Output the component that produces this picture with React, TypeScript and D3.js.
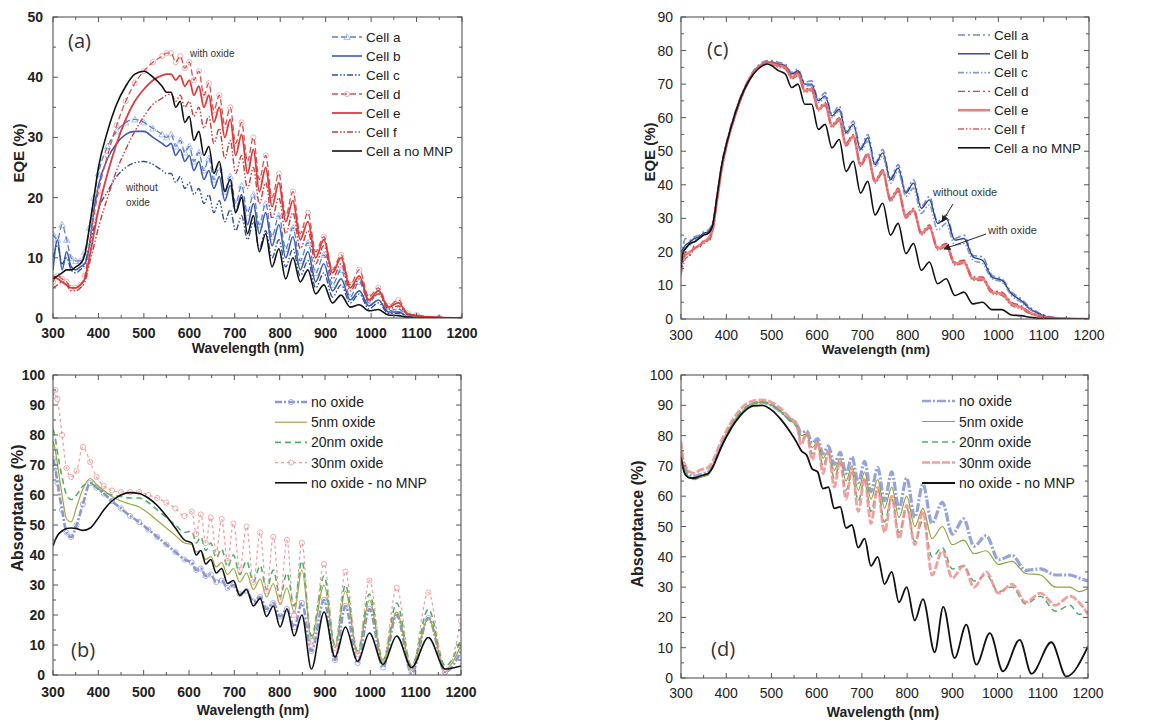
import React from 'react';
import * as d3 from 'd3';

// ================= DATA =================
const xTicks = [300, 400, 500, 600, 700, 800, 900, 1000, 1100, 1200];
const yTicksA = [0, 10, 20, 30, 40, 50];
const yTicksC = [0, 10, 20, 30, 40, 50, 60, 70, 80, 90];
const yTicksB = [0, 10, 20, 30, 40, 50, 60, 70, 80, 90, 100];

// ---- panel (a): EQE ----
const lamA = [300,310,320,330,340,350,360,370,380,390,400,420,440,460,480,500,520,540,550,
  560,570,580,590,600,610,621,632,643,654,666,678,690,702,715,728,741,754,768,782,797,812,828,844,861,878,896,915,934,954,974,995,1016,1038,1060,1080,
  1100,1150,1200];
const aCellA = [14,13,15.5,13,10,9.5,9.5,11,15,20,24,28.5,31,32.5,33,32.5,31.5,30.5,30,
  30.5,28.5,29.5,27.5,28.5,26,27.5,24.5,26.5,23,25,21,23.5,19,22,17.5,20.5,15.5,19,13.5,17,11.5,15,9.5,12.5,7.5,10.5,5.5,8,3.5,6,2.5,4.5,1.2,1.5,0.5,
  0.2,0,0];
const aCellB = [8,13,8,11,8.5,8,8.5,9,12,18,22,26.5,29,30.5,31,31,30,29,28.5,
  29,27,28,26,27,24.5,26,23,24.5,21.5,23.5,19.5,22,17.5,20.5,15.5,19,14,17.5,12,15.5,10,13.5,8,11,6,9,4.5,6.5,3,4.5,2,3,1,1,0.3,
  0.1,0,0];
const aCellC = [10,12,9,10,8,7.5,8,9,12,15,18,21,23.5,25,25.8,26,25.5,24.5,24,
  24,22.5,23.5,21.5,22.5,20.5,21.5,19,20.5,17.5,19.5,16,18,14.5,17,13,16,11.5,14.5,10,13,8.5,11.5,7,9.5,5,7.5,3.5,5.5,2.5,4,1.5,2.5,0.8,0.8,0.3,
  0.1,0,0];
const aCellD = [6,7,6.5,6,5,5,5.5,7,12,17,21,27,32,36,39,41,42.5,43.5,44,
  44,42.5,43.5,41.5,42.5,39.5,41,37,39,34.5,37,32,35,29,32.5,26,30,23,27,20,24,17,21,14,17.5,11,13.5,8,10.5,5.5,8,3.5,5,2,3,0.8,
  0.5,0.1,0];
const aCellE = [7,6.5,6,5.5,5,5,5.5,6.5,10,14,18,24,29,33,36,38,39.5,40.3,40.5,
  40.5,39.5,40.3,38.5,39.5,37,38.5,35,37,32.5,35,30,33,27,30.5,24,28,21,25,18.5,22.5,16,19.5,13,16,10,13,7.5,10,5,7,3,4.5,1.8,2.5,0.7,
  0.4,0.1,0];
const aCellF = [5,5.5,6,5.5,4.5,4.5,5,6,9,12,15,20,24.5,28,31,33.5,35.5,36.5,37,
  37.2,36,37,35,36,33.5,35,31.5,33.5,29,31.5,26.5,29.5,24,27,21.5,25,19,22.5,16.5,20,14,17.5,11.5,14.5,9,12,6.5,9,4.5,6.5,2.8,4,1.5,2,0.6,
  0.3,0.1,0];
const aNoMNP = [6.5,7,7.5,8,8,8.5,9,10.5,15,20,25,31,35.5,38.5,40.5,41,40,38.5,37.5,
  37.5,35,36,32.5,33.5,29.5,31,27,28.5,24,26,21,23,17.5,20,14,17,11,14,8.5,11.5,6.5,10,6,8,4,5.5,2.5,3.8,1.8,2.2,1.2,1.4,0.5,0.4,0.1,
  0,0,0];

// ---- panel (b): absorptance ----
const lamB = [300,305,310,320,330,340,352,366,382,396,412,430,450,470,490,510,530,550,570,590,
  606,616,626,637,648,660,672,685,698,712,727,742,757,771,786,801,816,832,
  849,870,898,922,945,972,998,1028,1058,1091,1128,1165,1200];
const bNoOxide = [72,69,64,55,47.5,46,50,57,64,62.5,60.5,58,55.5,53,51,48.5,46,43.5,41,38.5,
  37.5,35,35.5,33,33.5,31,31.5,29,30,27,28,24.5,26,22,24,19.5,22,16,
  24,8,25,5,23,4,22,2.5,20,0.5,19,1,8];
const b5nm = [78,75,70,60,52,51,56,62,65.5,63.5,61.5,59.5,58,57,56,54,51.5,49,46.5,44,
  43.5,41,41.5,38.5,39.5,36,37.5,33.5,35.5,31,34,28.5,32,26,30.5,23.5,29,21,
  35,12,30,9,28,7,25,4,21,2,19,2,10];
const b20nm = [82,79,74,66,60,58.5,60,63,64,62.5,61,60,59.5,59,59,57.5,55,52.5,50,47.5,
  48,44,46,41.5,44,39,42,36,40,33.5,38,31,36.5,28.5,35,26,34,23,
  38,13,33,10,30,8,27,5,24,3,22,3,12];
const b30nm = [93,95,92,80,69,66,68,76,71,66,63,61.5,61,61,61,60,59,57.5,55.5,53,
  54.5,47,53.5,44,52.5,41,52,38,50.5,35,49.5,31,47.5,28,46,25,45,20,
  44,10,37,9,34.5,7,31.5,4.5,29,2.5,27.5,1,18];
const bNoMNP = [43,45,46.5,48,48.8,49,48.8,48.2,49,51.5,55,58,60,60.8,60.5,59,56.5,53,49,45,
  44,40,41.5,37,38.5,34,35.5,30.5,31.5,26.5,28.5,23,25.5,19.5,23,16,22,13,
  20,2,21,6,16,4.5,14,3.5,13,2.5,12.5,2,3];

// ---- panel (c): EQE ----
const lamC = [300,305,310,320,330,340,350,360,370,380,390,400,420,440,460,480,490,500,515,
  530,544,558,573,588,603,618,633,649,664,680,696,712,728,745,762,779,796,813,830,848,866,885,904,924,944,965,986,1008,1029,1050,
  1070,1090,1110,1150,1200];
const cCellA = [18,22,24,23.5,24.5,25,26,26.5,29,37.5,46.5,52.5,62,69,74,76.5,77,77,76.5,
  76,73.5,74.5,70.5,71,65.5,67.5,61,63.5,56,59,51,55,46.5,50.5,42,46,38,41.5,33.5,36.5,29,31,24,25,19,18.5,13,12,8,6,
  3.5,1.8,0.8,0.2,0];
const cCellB = [20,21,22,23,24,24.5,25.5,26,28.5,37,46,52,61.5,68.5,73.5,76,76.5,76.5,76,
  75.5,73,74,70,70,65,66.5,60.5,62.5,55.5,58,50.5,54,46,49.5,41.5,45,37.5,40.5,33,35.5,28.5,30,23.5,24,18.5,17.5,12.5,11.5,7.5,5.5,
  3,1.5,0.6,0.1,0];
const cCellC = [16,19,21,22,23.5,24,25,25.5,28,36.5,45.5,51.5,61,68,73.5,76,76.5,76,75.5,
  75,72.5,73.5,69.5,69.5,64.5,66,60,62,55,57.5,50,53,45.5,48.5,40.5,44,36.5,39,31.5,34,26.5,28.5,22,22.5,17.5,16.5,12,11,7,5,
  2.8,1.3,0.5,0.1,0];
const cCellD = [14,17,20,19,22,21,23.5,23,26.5,35.5,45,51.5,61,68.5,73.5,76,76.5,76.5,76,
  75.5,72.5,73.5,68.5,69,63,64.5,58,60,52.5,55,46.5,49.5,41.5,44.5,36,39,31,33,26,28,21.5,22.5,17,17.5,12.5,12.5,8.5,8,5,4,
  2,1,0.5,0.1,0];
const cCellE = [17,18,19,20,21,22,23,24,27,36,45,51.5,61,68.5,73.5,76,76.5,76,75.5,
  75,72,73,68,68.5,62.5,64,57.5,59.5,52,54.5,46,49,41,44,35.5,38.5,30.5,32.5,25.5,27.5,21,22,16.5,17,12,12,8,7.5,4.5,3.5,
  1.8,0.9,0.4,0.1,0];
const cCellF = [13,16,18,19,21,22,22.5,23.5,26,35.5,44.5,51,60.5,68,73,75.5,76,75.5,75,
  74.5,71.5,72.5,67.5,68,62,63.5,57,59,51.5,54,45.5,48.5,40.5,43.5,35,38,30,32,25,27,20.5,21.5,16,16.5,11.5,11.5,7.5,7,4,3,
  1.5,0.8,0.3,0.1,0];
const cNoMNP = [15,20,21,22.5,23,24,25,25.5,28,37,46,52,61.5,68.5,73,75.5,76,75.5,74,
  73,69,70,64,64,56.5,58,51,53.5,44,47,37.5,41,31,34.5,25,28.5,19.5,22.5,14.5,17,10.5,12,7,8,4.5,5,2.8,2.8,1.2,1,
  0.5,0.2,0.1,0,0];

// ---- panel (d): absorptance ----
const lamD = [300,305,310,320,330,340,350,360,370,380,390,400,420,440,460,480,500,520,540,
  555,566,578,590,602,614,626,639,652,665,678,692,706,720,735,750,766,782,799,817,835,855,878,900,925,948,975,1002,1032,1062,1095,1128,1160,1180,
  1200];
const dNoOxide = [75,71,69,67,66.5,67,67.5,68,70,73.5,77,80,85,88.5,90.5,91,90,88,85.5,
  84,81,81.5,77.5,79,74,76.5,70.5,74.5,67.5,73,64.5,71.5,61.5,69.5,58.5,68,56,66,53,64,51,58,47.5,52.5,43.5,47,39,40.5,35.5,36,34,34,33,
  32];
const d5nm = [74,70,68,66,65.5,66,66.5,67,69.5,73,76.5,80,85,88.5,90.3,91,90,88,85,
  83.5,80,80.5,76,78,72.5,75,68.5,72.5,65,70,62,68,59,65.5,56,63,53,60,50,56,46,50,44,45.5,41,42,37.5,38.5,34.5,34,30,30,28.5,
  29.5];
const d20nm = [74,70,68,66,66,66.5,67,67.5,70,73.5,77,80.5,85.5,89,90.8,91.2,90.3,88,85,
  83,78.5,80,74,77,70,74,66,71,62,68,58.5,65.5,55,62.5,51.5,59.5,48,56,45,52,40,43,36,37,32,34,28.5,30,24.5,27,22,24,21,
  22];
const d30nm = [78,72,70,68,67.5,68.5,69,69.5,71.5,75,78.5,81.5,86.5,90,91.5,91.8,91,89,86,
  84,77,81,72,78,67.5,75,63,72,59,69,55,66,51,63,48,60,46,57,44,55,34,42,33,37,30,35,28,31,25,28,24,27,25,
  21];
const lamDk = [300,305,310,320,330,340,350,360,370,380,390,400,420,440,460,480,500,520,540,
  555,566,578,590,602,614,626,639,652,665,678,692,706,720,735,750,766,782,799,817,835,
  861,880,905,931,953,983,1012,1049,1075,1119,1152,1200];
const dNoMNP = [73,69,67,66,66,66.5,67,67.5,69.5,73,76.5,79.5,84.5,88,89.8,90,88.5,85.5,81.5,
  78,75,73.5,69,68,62.5,63,56,56.5,49.5,50.5,43,46,37,40,31,35,25,30,19,26,
  8.5,23.5,6.6,17.6,4.4,14.8,2.2,12.6,1.4,11.8,0.5,10.4];

const legendA = ['Cell a', 'Cell b', 'Cell c', 'Cell d', 'Cell e', 'Cell f', 'Cell a no MNP'];
const legendB = ['no oxide', '5nm oxide', '20nm oxide', '30nm oxide', 'no oxide - no MNP'];

// ================= STYLE / LAYOUT =================
const FONT = '"Liberation Sans", Arial, Helvetica, sans-serif';

type Style = { color: string; width: number; dash?: string; marker?: 'tri' | 'circle'; mcolor?: string; opacity?: number };
type Ser = { x: number[]; y: number[]; st: Style };

const stA: Style[] = [
  { color: '#5a7fd0', width: 1.3, dash: '6,3', marker: 'tri', mcolor: '#9fb4e6' },
  { color: '#3d5cae', width: 1.6 },
  { color: '#2f4f9c', width: 1.4, dash: '6,2,1.5,2,1.5,2' },
  { color: '#d85050', width: 1.3, dash: '6,3', marker: 'circle', mcolor: '#f0a8a8' },
  { color: '#e23a3a', width: 1.8 },
  { color: '#c83c3c', width: 1.4, dash: '6,2,1.5,2,1.5,2' },
  { color: '#111111', width: 1.6 },
];
const stC: Style[] = [
  { color: '#6080c8', width: 1.6, dash: '7,3,2,3', opacity: 0.9 },
  { color: '#2c3f8f', width: 1.4 },
  { color: '#7090cc', width: 1.6, dash: '6,2,1.5,2,1.5,2', opacity: 0.9 },
  { color: '#c84848', width: 1.4, dash: '7,3,2,3' },
  { color: '#ec6868', width: 2.6, opacity: 0.85 },
  { color: '#d86060', width: 1.3, dash: '6,2,1.5,2,1.5,2' },
  { color: '#111111', width: 1.6 },
];
const stB: Style[] = [
  { color: '#8c96d2', width: 2.6, dash: '7,2,2,2', marker: 'circle', mcolor: '#a4acdc' },
  { color: '#a3a43c', width: 1.2 },
  { color: '#4fae6a', width: 1.6, dash: '6,4' },
  { color: '#ef9a9a', width: 1.2, dash: '3,3', marker: 'circle', mcolor: '#f2a3a3' },
  { color: '#111111', width: 1.6 },
];
const stD: Style[] = [
  { color: '#8a9ad6', width: 3.2, dash: '9,2,2,2', opacity: 0.9 },
  { color: '#8ea33e', width: 1.2 },
  { color: '#4fae6a', width: 1.5, dash: '6,4' },
  { color: '#ef8e8e', width: 2.8, dash: '8,2', opacity: 0.85 },
  { color: '#111111', width: 1.8 },
];

type Note = { text: string; x: number; y: number; size: number; anchor?: string; family?: string };
type Arrow = { x1: number; y1: number; x2: number; y2: number };

type PanelCfg = {
  id: string; left: number; right: number; top: number; bottom: number;
  yMax: number; yTicks: number[]; yMinorStep: number;
  series: Ser[]; legend: string[]; legendStyles: Style[];
  legX: number; legY: number; legDy: number; legLen: number; legFont: number;
  tickFont: number; tickBold: boolean; tickBase: number; yLabRight: number;
  yTitle: string; yTitleX: number; yTitleY: number; yTitleSize: number;
  xTitleX: number; xTitleY: number; xTitleSize: number;
  notes: Note[]; arrows: Arrow[];
};

const panels: PanelCfg[] = [
  {
    id: 'a', left: 53, right: 462, top: 17, bottom: 318, yMax: 50, yTicks: yTicksA, yMinorStep: 5,
    series: [aCellA, aCellB, aCellC, aCellD, aCellE, aCellF, aNoMNP].map((y, i) => ({ x: lamA, y, st: stA[i] })),
    legend: legendA, legendStyles: stA, legX: 332, legY: 37, legDy: 19, legLen: 30, legFont: 13.5,
    tickFont: 14, tickBold: true, tickBase: 338, yLabRight: 43,
    yTitle: 'EQE (%)', yTitleX: 19, yTitleY: 153, yTitleSize: 15,
    xTitleX: 248, xTitleY: 353, xTitleSize: 14,
    notes: [
      { text: '(a)', x: 68, y: 48, size: 20, family: '"Open Sans", sans-serif' },
      { text: 'with oxide', x: 190, y: 57, size: 10 },
      { text: 'without', x: 126, y: 191, size: 10 },
      { text: 'oxide', x: 126, y: 206, size: 10 },
    ],
    arrows: [],
  },
  {
    id: 'c', left: 681, right: 1089, top: 17, bottom: 319, yMax: 90, yTicks: yTicksC, yMinorStep: 5,
    series: [cCellA, cCellB, cCellC, cCellD, cCellE, cCellF, cNoMNP].map((y, i) => ({ x: lamC, y, st: stC[i] })),
    legend: legendA, legendStyles: stC, legX: 958, legY: 35, legDy: 18.8, legLen: 32, legFont: 13.5,
    tickFont: 14, tickBold: false, tickBase: 340, yLabRight: 673,
    yTitle: 'EQE (%)', yTitleX: 650, yTitleY: 152, yTitleSize: 15,
    xTitleX: 876, xTitleY: 354, xTitleSize: 13.5,
    notes: [
      { text: '(c)', x: 707, y: 56, size: 20, family: '"Open Sans", sans-serif' },
      { text: 'without oxide', x: 933, y: 196, size: 11 },
      { text: 'with oxide', x: 988, y: 234, size: 11 },
    ],
    arrows: [
      { x1: 953, y1: 204, x2: 942, y2: 222 },
      { x1: 986, y1: 234, x2: 944, y2: 249 },
    ],
  },
  {
    id: 'b', left: 53, right: 461, top: 375, bottom: 675, yMax: 100, yTicks: yTicksB, yMinorStep: 5,
    series: [bNoOxide, b5nm, b20nm, b30nm, bNoMNP].map((y, i) => ({ x: lamB, y, st: stB[i] })),
    legend: legendB, legendStyles: stB, legX: 275, legY: 402, legDy: 20.2, legLen: 32, legFont: 14,
    tickFont: 14, tickBold: true, tickBase: 697, yLabRight: 45,
    yTitle: 'Absorptance (%)', yTitleX: 17, yTitleY: 508, yTitleSize: 16,
    xTitleX: 253, xTitleY: 715, xTitleSize: 14,
    notes: [{ text: '(b)', x: 71, y: 657, size: 20, family: '"Open Sans", sans-serif' }],
    arrows: [],
  },
  {
    id: 'd', left: 681, right: 1088, top: 375, bottom: 678, yMax: 100, yTicks: yTicksB, yMinorStep: 5,
    series: [
      { x: lamD, y: dNoOxide, st: stD[0] },
      { x: lamD, y: d5nm, st: stD[1] },
      { x: lamD, y: d20nm, st: stD[2] },
      { x: lamD, y: d30nm, st: stD[3] },
      { x: lamDk, y: dNoMNP, st: stD[4] },
    ],
    legend: legendB, legendStyles: stD, legX: 922, legY: 401, legDy: 20.5, legLen: 33, legFont: 14,
    tickFont: 14, tickBold: false, tickBase: 698, yLabRight: 673,
    yTitle: 'Absorptance (%)', yTitleX: 637, yTitleY: 524, yTitleSize: 16,
    xTitleX: 883, xTitleY: 717, xTitleSize: 14,
    notes: [{ text: '(d)', x: 711, y: 656, size: 20, family: '"Open Sans", sans-serif' }],
    arrows: [],
  },
];

// ================= RENDER =================
function Marker({ kind, x, y, color }: { kind: 'tri' | 'circle'; x: number; y: number; color: string }) {
  if (kind === 'tri') {
    const s = 3.2;
    return <path d={`M${x},${y - s}L${x + s},${y + s * 0.8}L${x - s},${y + s * 0.8}Z`} fill="none" stroke={color} strokeWidth={0.9} />;
  }
  return <circle cx={x} cy={y} r={2.6} fill="none" stroke={color} strokeWidth={0.9} />;
}

function Panel({ p }: { p: PanelCfg }) {
  const x = d3.scaleLinear().domain([300, 1200]).range([p.left, p.right]);
  const y = d3.scaleLinear().domain([0, p.yMax]).range([p.bottom, p.top]);
  const line = d3.line<[number, number]>().x(d => x(d[0])).y(d => y(d[1])).curve(d3.curveMonotoneX);
  const xMinor = d3.range(350, 1200, 100);
  const yMinor = d3.range(p.yMinorStep, p.yMax, p.yMinorStep * 2);
  const tickW = p.tickBold ? 'bold' : 'normal';
  const frame = '#555';
  return (
    <g>
      <defs>
        <clipPath id={`clip-${p.id}`}>
          <rect x={p.left} y={p.top} width={p.right - p.left} height={p.bottom - p.top} />
        </clipPath>
      </defs>
      <g clipPath={`url(#clip-${p.id})`}>
        {p.series.map((s, i) => {
          const pts = s.x.map((xx, j) => [xx, s.y[j]] as [number, number]);
          return (
            <g key={i} opacity={s.st.opacity ?? 1}>
              {s.st.marker && pts.map((d, j) => (
                <Marker key={j} kind={s.st.marker!} x={x(d[0])} y={y(d[1])} color={s.st.mcolor || s.st.color} />
              ))}
              <path d={line(pts) || ''} fill="none" stroke={s.st.color} strokeWidth={s.st.width}
                strokeDasharray={s.st.dash} strokeLinejoin="round" />
            </g>
          );
        })}
      </g>
      <rect x={p.left} y={p.top} width={p.right - p.left} height={p.bottom - p.top} fill="none" stroke={frame} strokeWidth={1.1} />
      {xTicks.map(t => (
        <g key={`xt${t}`}>
          <line x1={x(t)} x2={x(t)} y1={p.bottom} y2={p.bottom - 5} stroke={frame} />
          <line x1={x(t)} x2={x(t)} y1={p.top} y2={p.top + 5} stroke={frame} />
          <text x={x(t)} y={p.tickBase} textAnchor="middle" fontSize={p.tickFont} fontWeight={tickW} fontFamily={FONT} fill="#222">{t}</text>
        </g>
      ))}
      {xMinor.map(t => (
        <g key={`xm${t}`}>
          <line x1={x(t)} x2={x(t)} y1={p.bottom} y2={p.bottom - 3} stroke={frame} />
          <line x1={x(t)} x2={x(t)} y1={p.top} y2={p.top + 3} stroke={frame} />
        </g>
      ))}
      {p.yTicks.map(t => (
        <g key={`yt${t}`}>
          <line x1={p.left} x2={p.left + 5} y1={y(t)} y2={y(t)} stroke={frame} />
          <line x1={p.right} x2={p.right - 5} y1={y(t)} y2={y(t)} stroke={frame} />
          <text x={p.yLabRight} y={y(t)} dy="0.36em" textAnchor="end" fontSize={p.tickFont} fontWeight={tickW} fontFamily={FONT} fill="#222">{t}</text>
        </g>
      ))}
      {yMinor.map(t => (
        <g key={`ym${t}`}>
          <line x1={p.left} x2={p.left + 3} y1={y(t)} y2={y(t)} stroke={frame} />
          <line x1={p.right} x2={p.right - 3} y1={y(t)} y2={y(t)} stroke={frame} />
        </g>
      ))}
      <text x={p.xTitleX} y={p.xTitleY} textAnchor="middle" fontSize={p.xTitleSize} fontWeight="bold" fontFamily={FONT} fill="#222">Wavelength (nm)</text>
      <text transform={`translate(${p.yTitleX},${p.yTitleY}) rotate(-90)`} dy="0.36em" textAnchor="middle" fontSize={p.yTitleSize} fontWeight="bold" fontFamily={FONT} fill="#222">{p.yTitle}</text>
      {p.legend.map((lab, i) => {
        const st = p.legendStyles[i];
        const ly = p.legY + i * p.legDy;
        return (
          <g key={lab}>
            <line x1={p.legX} x2={p.legX + p.legLen} y1={ly} y2={ly} stroke={st.color} strokeWidth={Math.min(st.width, 2.6)}
              strokeDasharray={st.dash} opacity={st.opacity ?? 1} />
            {st.marker && <Marker kind={st.marker} x={p.legX + p.legLen / 2} y={ly} color={st.mcolor || st.color} />}
            <text x={p.legX + p.legLen + 4} y={ly} dy="0.36em" fontSize={p.legFont} fontFamily={FONT} fill="#222">{lab}</text>
          </g>
        );
      })}
      {p.notes.map((n, i) => (
        <text key={i} x={n.x} y={n.y} fontSize={n.size} fontFamily={n.family || FONT} fill="#333" textAnchor={n.anchor || 'start'}>{n.text}</text>
      ))}
      {p.arrows.map((a, i) => (
        <line key={i} x1={a.x1} y1={a.y1} x2={a.x2} y2={a.y2} stroke="#222" strokeWidth={1} markerEnd="url(#arrowhead)" />
      ))}
    </g>
  );
}

export default function App() {
  return (
    <svg width={1173} height={724} viewBox="0 0 1173 724" style={{ display: 'block', position: 'absolute', left: 0, top: 0, background: '#fff' }}>
      <defs>
        <marker id="arrowhead" viewBox="0 0 10 10" refX="9" refY="5" markerWidth="7" markerHeight="7" orient="auto-start-reverse">
          <path d="M0,0L10,5L0,10Z" fill="#222" />
        </marker>
      </defs>
      <rect x={0} y={0} width={1173} height={724} fill="#fff" />
      {panels.map(p => <Panel key={p.id} p={p} />)}
    </svg>
  );
}
